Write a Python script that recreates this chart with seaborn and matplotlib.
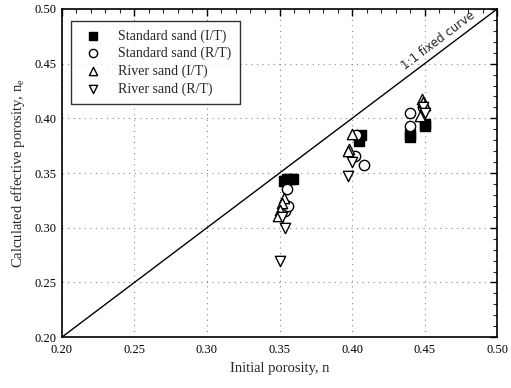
import numpy as np
import pandas as pd
import matplotlib
matplotlib.use("Agg")
import matplotlib.pyplot as plt
import seaborn as sns
from matplotlib.ticker import MultipleLocator

# Data
ss_it_x = [0.353, 0.355, 0.357, 0.359, 0.405, 0.406, 0.440, 0.440, 0.450, 0.450]
ss_it_y = [0.343, 0.345, 0.345, 0.345, 0.379, 0.385, 0.383, 0.386, 0.393, 0.395]
ss_rt_x = [0.355, 0.354, 0.356, 0.403, 0.402, 0.408, 0.440, 0.440, 0.449]
ss_rt_y = [0.335, 0.315, 0.320, 0.385, 0.366, 0.357, 0.405, 0.393, 0.410]
rs_it_x = [0.353, 0.352, 0.350, 0.349, 0.400, 0.398, 0.397, 0.448, 0.449, 0.450, 0.447]
rs_it_y = [0.327, 0.323, 0.316, 0.311, 0.386, 0.372, 0.370, 0.418, 0.415, 0.412, 0.402]
rs_rt_x = [0.354, 0.352, 0.350, 0.400, 0.397, 0.449, 0.450]
rs_rt_y = [0.300, 0.310, 0.270, 0.360, 0.347, 0.410, 0.405]

series_names = ["Standard sand (I/T)", "Standard sand (R/T)",
                "River sand (I/T)", "River sand (R/T)"]
line_x = [0.20, 0.50]
line_y = [0.20, 0.50]

sns.set_theme(style="white")
plt.rcParams['font.family'] = ['Liberation Serif', 'DejaVu Serif']
plt.rcParams['mathtext.fontset'] = 'stix'

fig = plt.figure(figsize=(5.11, 3.88), dpi=100)
ax = fig.add_axes([0.121, 0.131, 0.852, 0.846])

frames = []
for name, xs, ys in zip(series_names,
                        [ss_it_x, ss_rt_x, rs_it_x, rs_rt_x],
                        [ss_it_y, ss_rt_y, rs_it_y, rs_rt_y]):
    frames.append(pd.DataFrame({"n": xs, "ne": ys, "series": name}))
df = pd.concat(frames, ignore_index=True)

styles = {
    "Standard sand (I/T)": dict(marker="s", facecolor="black"),
    "Standard sand (R/T)": dict(marker="o", facecolor="white"),
    "River sand (I/T)": dict(marker="^", facecolor="white"),
    "River sand (R/T)": dict(marker="v", facecolor="white"),
}
for name in series_names:
    sub = df[df["series"] == name]
    st = styles[name]
    sns.scatterplot(data=sub, x="n", y="ne", marker=st["marker"], s=55,
                    facecolor=st["facecolor"], edgecolor="black", linewidth=1.0,
                    label=name, ax=ax, zorder=3)

sns.lineplot(x=line_x, y=line_y, color="black", linewidth=1.0, ax=ax, zorder=2)
ax.text(0.462, 0.466, "1:1 fixed curve", rotation=37.0, fontsize=8.5,
        ha="center", va="bottom", rotation_mode="anchor", family=['DejaVu Sans'])

ax.set_xlim(0.20, 0.50)
ax.set_ylim(0.20, 0.50)
ax.xaxis.set_major_locator(MultipleLocator(0.05))
ax.yaxis.set_major_locator(MultipleLocator(0.05))
ax.xaxis.set_minor_locator(MultipleLocator(0.01))
ax.yaxis.set_minor_locator(MultipleLocator(0.01))
ax.xaxis.set_major_formatter(matplotlib.ticker.FormatStrFormatter('%.2f'))
ax.yaxis.set_major_formatter(matplotlib.ticker.FormatStrFormatter('%.2f'))
ax.tick_params(which="major", direction="in", length=5, width=1.0,
               top=True, right=True, labelsize=9, colors="black")
ax.tick_params(which="minor", direction="in", length=3, width=0.8,
               top=True, right=True)
ax.tick_params(axis="x", pad=5)
ax.grid(True, which="major", linestyle=(0, (1, 4)), color="#888888", linewidth=0.8)
for sp in ax.spines.values():
    sp.set_color("black")
    sp.set_linewidth(1.2)

ax.set_xlabel("Initial porosity, n", fontsize=10.5, labelpad=4)
ax.set_ylabel("Calculated effective porosity, n$_\\mathregular{e}$", fontsize=10.5, labelpad=6)

leg = ax.legend(loc="upper left", frameon=True, fancybox=False, fontsize=10,
                borderpad=0.6, handletextpad=0.8, labelspacing=0.3,
                bbox_to_anchor=(0.005, 0.985), markerscale=0.8)
leg.get_frame().set_edgecolor("black")
leg.get_frame().set_linewidth(1.0)

fig.savefig("out.png", dpi=100)
